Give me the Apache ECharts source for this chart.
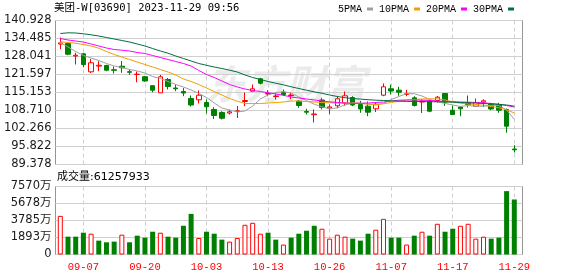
<!DOCTYPE html>
<html><head><meta charset="utf-8">
<script src="https://cdn.jsdelivr.net/npm/echarts@6/dist/echarts.min.js"></script>
<style>html,body{margin:0;padding:0;background:#fff}#c{width:578px;height:276px}</style>
</head><body><div id="c"></div>
<script>
const titleText = '美团-W[03690] 2023-11-29 09:56';
const volumeTitle = '成交量:61257933';
const seriesNames = ['5PMA','10PMA','20PMA','30PMA'];
const priceTicks = ['89.378','95.822','102.266','108.710','115.153','121.597','128.041','134.485','140.928'];
const volumeTicks = ['0','1893万','3785万','5678万','7570万'];
const priceMin = 89.378, priceMax = 140.928;
const volumeMax = 7570;

const dates = ['09-04','09-05','09-06','09-07','09-11','09-12','09-13','09-14','09-15','09-18',
'09-19','09-20','09-21','09-22','09-25','09-26','09-27','09-28','09-29','10-03',
'10-04','10-05','10-06','10-09','10-10','10-11','10-12','10-13','10-16','10-17',
'10-18','10-19','10-20','10-24','10-25','10-26','10-27','10-30','10-31','11-01',
'11-02','11-03','11-06','11-07','11-08','11-09','11-10','11-13','11-14','11-15',
'11-16','11-17','11-20','11-21','11-22','11-23','11-24','11-27','11-28','11-29'];

const opens = [132.5,132.7,128.2,129.0,122.56,124.6,124.82,123.3,124.57,122.6,
121.6,120.81,117.59,115.05,119.81,116.76,115.51,113.0,112.54,111.57,
109.07,108.0,107.81,108.35,111.93,115.62,120.06,114.62,113.72,115.26,
114.08,112.04,108.35,107.2,112.47,109.6,110.39,111.4,113.36,110.86,
110.25,109.32,114.19,116.48,115.98,114.44,113.26,111.75,112.04,112.29,
114.8,108.82,109.96,111.57,110.25,111.75,111.04,110.86,109.07,94.93];
const closes = [132.9,128.86,128.5,125.18,125.79,124.9,123.13,123.1,124.0,122.4,
121.7,119.27,115.98,120.77,117.3,116.48,114.97,110.68,114.19,110.04,
106.92,105.95,108.24,108.6,112.29,116.48,118.48,114.8,113.9,114.44,
114.26,110.5,108.1,107.46,109.8,110.0,112.9,113.97,110.68,109.25,
108.1,110.96,117.19,115.69,115.26,114.69,110.5,112.04,108.46,113.47,
111.75,107.28,109.32,110.86,111.57,112.18,109.25,108.82,103.09,94.64];
const lows = [130.65,128.5,125.18,124.2,122.13,122.78,122.78,121.95,122.2,121.49,
118.8,118.98,115.23,115.05,116.23,115.62,113.83,110.14,111.2,107.64,
105.67,105.49,107.28,106.02,110.25,115.62,118.02,113.83,112.65,113.9,
112.83,109.68,107.28,104.41,109.07,107.46,109.53,110.39,110.25,107.89,
106.67,108.17,113.83,114.44,113.97,113.83,110.14,107.81,108.1,111.57,
110.32,107.1,106.67,109.78,110.04,109.96,108.82,107.89,100.73,93.67];
const highs = [134.84,132.9,129.36,129.3,127.15,126.36,125.07,124.46,126.43,123.39,
122.67,121.13,117.77,121.42,120.34,118.02,116.76,114.08,115.87,112.65,
109.89,108.46,108.96,110.32,115.15,118.02,120.42,115.98,114.8,116.23,
115.15,112.47,109.32,109.07,113.26,110.86,113.83,115.51,113.83,112.11,
111.93,111.57,118.38,118.02,117.19,116.12,113.83,112.65,112.65,113.9,
114.97,110.5,110.32,114.08,113.0,112.72,111.47,111.47,109.43,96.29];

const ma5 = [133.05,131.44,129.83,128.40,127.50,126.61,125.53,124.64,124.10,123.39,
122.85,122.13,120.88,120.16,119.09,118.02,117.12,116.05,114.79,113.36,
111.39,109.60,108.89,108.17,108.53,110.32,112.83,114.26,115.15,115.44,
114.97,113.54,112.29,110.96,110.03,109.25,109.64,110.68,111.39,111.36,
110.96,110.68,111.25,112.65,113.72,114.76,114.69,113.90,112.65,111.82,
111.25,110.68,110.14,110.50,110.21,110.25,110.57,110.50,108.89,105.56];
const ma10 = [133.30,133.05,132.77,132.34,131.80,131.01,129.83,128.76,127.86,126.97,
126.07,125.18,124.28,123.39,122.49,121.42,119.99,119.09,118.02,116.76,
115.51,114.26,113.00,112.04,111.21,111.21,111.21,111.39,111.57,111.75,
112.11,112.11,111.93,111.75,111.57,111.47,111.39,111.39,111.39,111.21,
111.04,110.86,111.11,111.57,112.04,112.40,112.65,112.83,112.90,112.90,
112.47,111.75,111.29,111.04,110.86,110.57,110.14,109.68,108.96,107.81];
const ma20 = [134.48,133.95,133.59,133.23,132.52,131.80,131.08,130.55,130.30,130.01,
129.47,129.11,128.40,127.68,126.97,126.25,125.53,124.64,123.03,121.60,
120.52,119.27,118.02,117.12,116.41,115.87,115.51,115.08,114.62,114.15,
113.54,113.18,112.83,112.47,112.11,111.82,111.57,111.39,111.29,111.29,
111.39,111.57,111.75,112.11,112.40,112.47,112.47,112.40,112.29,112.11,
112.00,111.86,111.75,111.68,111.57,111.47,111.21,110.93,110.50,109.96];
const ma30 = [136.27,136.52,136.45,136.17,135.81,135.38,134.84,134.31,133.77,133.23,
132.52,131.80,130.90,130.01,129.22,128.22,127.32,126.43,125.53,124.89,
124.28,123.74,123.14,122.49,121.42,120.52,119.81,119.09,118.48,117.91,
117.19,116.58,115.98,115.40,114.87,114.26,113.72,113.29,113.00,112.79,
112.57,112.40,112.29,112.15,112.04,111.97,111.93,111.89,111.86,111.82,
111.75,111.68,111.57,111.47,111.36,111.21,111.07,110.89,110.68,110.25];

// volume in 万 shares
const volumes = [4300,1985,1985,2425,2315,1544,1360,1433,2205,1360,
2095,1874,2536,2425,1985,1874,3197,4520,1838,2536,
2315,1654,1433,1838,3308,3528,2315,2425,1654,1103,
1874,2315,2646,3197,2867,1764,2205,1985,1764,1544,
2315,2756,3969,1874,1874,1103,2095,2536,2095,3418,
2536,2867,3197,3418,1764,1985,1764,1874,7056,6125.7933];
// 1 = day closed higher (red hollow volume bar), 0 = lower (green)
const volumeUp = [1,0,0,0,1,0,0,0,1,0, 0,0,0,1,0,0,0,0,1,0,
0,0,1,1,1,1,1,0,0,1, 0,0,0,0,1,1,1,1,0,0,
0,1,1,0,0,1,0,1,0,1, 0,0,1,1,1,1,0,0,0,0];

const RED = '#ff0000', GREEN = '#008000';
const MA_COLORS = ['#a0a0a0', '#f0a000', '#ff00ff', '#00703c'];
const GRID_LINE = '#cfcfcf', FRAME_LINE = '#959595';
const AXIS_FONT = 'DejaVu Sans';
const MONO = 'Liberation Mono, "Noto Sans CJK SC"';

const labelEvery = (i) => i % 8 === 3;

const chart = echarts.init(document.getElementById('c'), null, {renderer: 'canvas'});

const kData = dates.map((d, i) => [opens[i], closes[i], lows[i], highs[i]]);
const volData = volumes.map((v, i) => ({
  value: v,
  itemStyle: volumeUp[i]
    ? {color: '#ffffff', borderColor: RED, borderWidth: 1}
    : {color: GREEN, borderColor: GREEN, borderWidth: 0}
}));
const maData = [ma5, ma10, ma20, ma30];

const option = {
  animation: false,
  backgroundColor: '#ffffff',
  title: [
    {text: titleText, left: 54, top: 3, padding: 0,
     textStyle: {fontFamily: '"DejaVu Sans Mono", "Noto Sans CJK SC"', fontSize: 10.5, fontWeight: 'normal', color: '#000'}},
    {text: volumeTitle, left: 57, top: 172, padding: 0,
     textStyle: {fontFamily: '"DejaVu Sans", "Noto Sans CJK SC"', fontSize: 11, fontWeight: 'normal', color: '#000'}}
  ],
  legend: {
    data: seriesNames, left: 338, top: 4, padding: 0,
    align: 'right', icon: 'rect', itemWidth: 6, itemHeight: 3, itemGap: 6,
    selectedMode: false,
    textStyle: {fontFamily: MONO, fontSize: 10, color: '#000'}
  },
  graphic: [{
    type: 'text', left: 206, top: 64, z: -10, silent: true,
    style: {text: '东方财富', font: 'italic bold 40px "Noto Sans CJK SC"', fill: '#ebebeb'}
  }],
  grid: [
    {left: 60.3, top: 20.5, width: 454, height: 144},
    {left: 60.3, top: 186.5, width: 454, height: 68},
    {left: 55.5, top: 20.5, width: 467, height: 144, show: true, borderColor: FRAME_LINE, borderWidth: 1, backgroundColor: 'transparent'},
    {left: 55.5, top: 186.5, width: 467, height: 68, show: true, borderColor: FRAME_LINE, borderWidth: 1, backgroundColor: 'transparent'}
  ],
  xAxis: [
    {type: 'category', gridIndex: 0, data: dates, boundaryGap: false,
     axisLine: {show: false}, axisTick: {show: false}, axisLabel: {show: false},
     splitLine: {show: true, interval: labelEvery, lineStyle: {color: GRID_LINE, type: [4, 3]}}},
    {type: 'category', gridIndex: 1, data: dates, boundaryGap: false,
     axisLine: {show: false}, axisTick: {show: false},
     axisLabel: {show: true, interval: labelEvery, margin: 7, color: RED, fontFamily: MONO, fontSize: 10.5},
     splitLine: {show: true, interval: labelEvery, lineStyle: {color: GRID_LINE, type: [4, 3]}}},
    {type: 'value', gridIndex: 2, show: false, min: 0, max: 1},
    {type: 'value', gridIndex: 3, show: false, min: 0, max: 1}
  ],
  yAxis: [
    {type: 'value', gridIndex: 0, min: priceMin, max: priceMax, show: false},
    {type: 'value', gridIndex: 1, min: 0, max: volumeMax, show: false},
    {type: 'value', gridIndex: 2, min: 0, max: priceTicks.length - 1, interval: 1,
     axisLine: {show: false}, axisTick: {show: false},
     axisLabel: {margin: 4, color: '#1a1a1a', fontFamily: AXIS_FONT, fontSize: 11.5, formatter: (v) => priceTicks[Math.round(v)]},
     splitLine: {show: true, lineStyle: {color: GRID_LINE, width: 1}}},
    {type: 'value', gridIndex: 3, min: 0, max: volumeTicks.length - 1, interval: 1,
     axisLine: {show: false}, axisTick: {show: false},
     axisLabel: {margin: 4, color: '#1a1a1a', fontFamily: AXIS_FONT + ', "Noto Sans CJK SC"', fontSize: 11.5, formatter: (v) => volumeTicks[Math.round(v)]},
     splitLine: {show: true, lineStyle: {color: GRID_LINE, width: 1}}}
  ],
  series: [
    {type: 'candlestick', name: 'K', xAxisIndex: 0, yAxisIndex: 0, data: kData,
     barWidth: 5, clip: false,
     itemStyle: {color: '#ffffff', color0: GREEN, borderColor: RED, borderColor0: GREEN, borderWidth: 1}},
    ...seriesNames.map((n, k) => ({
      type: 'line', name: n, xAxisIndex: 0, yAxisIndex: 0, data: maData[k],
      showSymbol: false, symbol: 'none', clip: false, z: 3,
      lineStyle: {color: MA_COLORS[k], width: 1},
      itemStyle: {color: MA_COLORS[k]}
    })),
    {type: 'bar', name: 'VOL', xAxisIndex: 1, yAxisIndex: 1, data: volData,
     barWidth: 5, clip: false}
  ]
};
chart.setOption(option);
</script>
</body></html>
